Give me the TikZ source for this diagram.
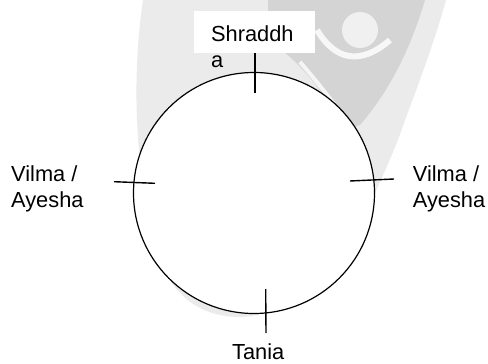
\documentclass[tikz,border=0pt]{standalone}
\usepackage{fontspec}
\setmainfont{Liberation Sans}
\begin{document}
\begin{tikzpicture}[x=1pt,y=-1pt,
  lbl/.style={inner sep=0pt,anchor=base west,align=left,font=\fontsize{21.8}{26}\selectfont},
  tick/.style={line width=1.4pt},
  ring/.style={circle,draw,line width=1.2pt,fill=white,minimum size=241pt,inner sep=0pt}]
\useasboundingbox (0,0) rectangle (488,364);
\fill[white] (0,0) rectangle (488,364);
% faint watermark
\fill[black!8] (143,0) .. controls (130,90) and (135,200) .. (170,280)
  .. controls (195,320) and (240,320) .. (260,314)
  -- (372,200) .. controls (385,170) and (395,150) .. (405,120)
  .. controls (420,80) and (435,40) .. (446,0) -- cycle;
\fill[black!17] (268,0) -- (425,0) .. controls (410,50) and (390,90) .. (360,125)
  -- (345,130) .. controls (330,100) and (300,60) .. (268,40) -- cycle;
\fill[black!6] (360,30) circle[radius=18pt];
\draw[black!3,line width=6pt] (317,30) .. controls (335,60) and (360,66) .. (390,40);
\draw[black!4,line width=4pt] (300,62) .. controls (320,85) and (335,105) .. (350,125);
\fill[white] (194,11) rectangle (315,52.7);
\fill[white] (395,153) rectangle (488,230);
\node[ring] (c) at (254,193) {};
\coordinate (t1) at (255,53); \coordinate (t2) at (255,93);
\coordinate (l1) at (114,181.7); \coordinate (l2) at (155,183.3);
\coordinate (r1) at (350,181); \coordinate (r2) at (394,179);
\coordinate (b1) at (265.7,289); \coordinate (b2) at (266,333);
\draw[tick] (t1) -- (t2);
\draw[tick] (l1) -- (l2);
\draw[tick] (r1) -- (r2);
\draw[tick] (b1) -- (b2);
\node[lbl] (s) at (211,67.2) {Shraddh\\a};
\node[lbl] (vl) at (11,207.7) {Vilma /\\Ayesha};
\node[lbl] (vr) at (412.7,207.7) {Vilma /\\Ayesha};
\node[lbl] (ta) at (232,359.5) {Tania};
\end{tikzpicture}
\end{document}
